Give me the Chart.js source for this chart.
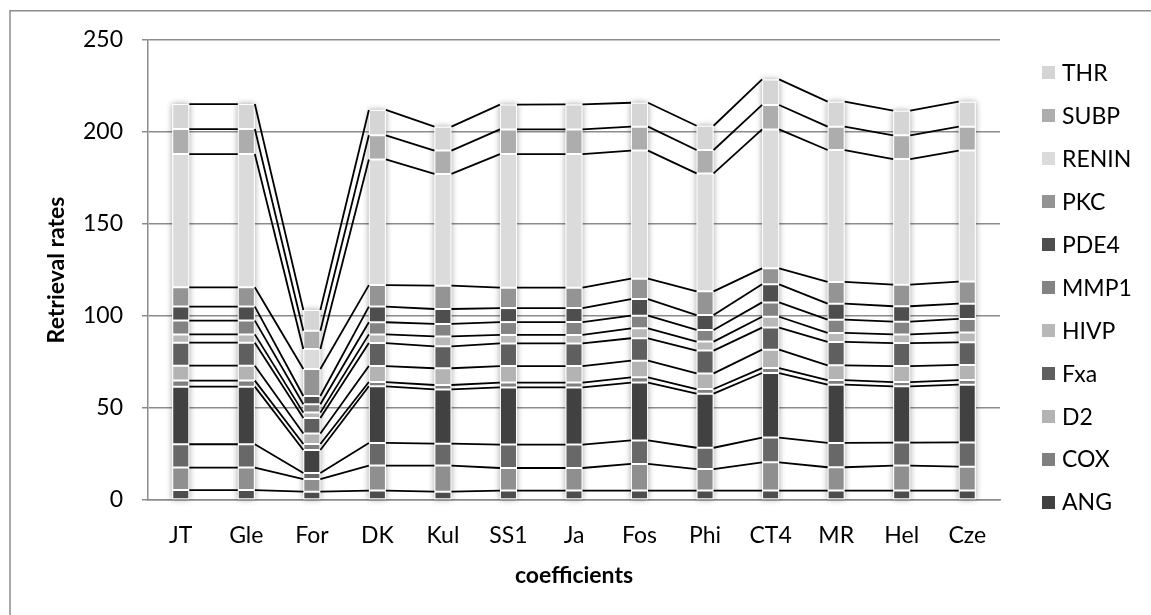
<!DOCTYPE html>
<html>
<head>
<meta charset="utf-8">
<script src="https://cdn.jsdelivr.net/npm/chart.js@4/dist/chart.umd.min.js"></script>
<style>
  html, body { margin: 0; padding: 0; background: #ffffff; }
  #wrap { width: 1151px; height: 615px; position: relative; }
</style>
</head>
<body>
<div id="wrap"><canvas id="c" width="1151" height="615"></canvas></div>
<script>
// Categories along the x axis
const categories = ['JT', 'Gle', 'For', 'DK', 'Kul', 'SS1', 'Ja', 'Fos', 'Phi', 'CT4', 'MR', 'Hel', 'Cze'];

// Series, stacked bottom to top
const ACE   = [5.4, 5.4, 4.5, 5.1, 4.5, 5.1, 5.1, 5.1, 5.1, 5.1, 5.1, 5.1, 5.1];
const ACHE  = [12.2, 12.2, 6.9, 13.6, 14.2, 12.3, 12.3, 14.5, 11.7, 15.4, 12.7, 13.6, 13.0];
const ADA   = [12.7, 12.7, 3.3, 12.3, 11.9, 12.7, 12.7, 12.8, 11.6, 13.4, 13.2, 12.5, 13.2];
const ANG   = [31.3, 31.3, 12.5, 30.8, 29.5, 31.1, 31.1, 31.4, 29.4, 35.1, 31.7, 30.6, 31.4];
const COX   = [3.3, 3.3, 3.2, 2.3, 2.4, 2.6, 2.6, 2.9, 2.5, 2.7, 2.5, 2.3, 2.5];
const D2    = [8.1, 8.1, 5.7, 8.7, 9.1, 9.0, 9.0, 9.0, 8.5, 10.0, 8.0, 8.7, 8.2];
const Fxa   = [12.5, 12.5, 8.5, 12.5, 11.9, 12.3, 12.3, 12.2, 12.4, 12.0, 12.7, 12.5, 12.3];
const HIVP  = [4.5, 4.5, 2.9, 4.7, 5.4, 4.6, 4.6, 5.4, 4.9, 5.9, 4.9, 4.7, 5.4];
const MMP1  = [7.5, 7.5, 4.5, 6.6, 6.8, 7.0, 7.0, 6.9, 6.3, 7.8, 7.2, 6.9, 7.3];
const PDE4  = [7.6, 7.6, 4.5, 8.5, 8.1, 7.6, 7.6, 9.0, 8.1, 9.8, 8.7, 8.4, 8.3];
const PKC   = [10.5, 10.5, 14.7, 11.7, 12.7, 11.1, 11.1, 11.1, 12.9, 8.7, 11.8, 11.7, 12.0];
const RENIN = [72.4, 72.4, 10.9, 68.3, 60.7, 72.6, 72.6, 69.6, 64.1, 75.5, 71.7, 68.3, 71.2];
const SUBP  = [13.6, 13.6, 9.9, 13.1, 12.7, 13.4, 13.4, 13.0, 12.7, 13.3, 12.7, 12.9, 13.0];
const THR   = [13.6, 13.6, 11.3, 13.8, 13.0, 13.5, 13.6, 13.0, 13.2, 13.9, 13.6, 13.4, 13.6];

const seriesNames  = ['ACE', 'ACHE', 'ADA', 'ANG', 'COX', 'D2', 'Fxa', 'HIVP', 'MMP1', 'PDE4', 'PKC', 'RENIN', 'SUBP', 'THR'];
const seriesValues = [ACE, ACHE, ADA, ANG, COX, D2, Fxa, HIVP, MMP1, PDE4, PKC, RENIN, SUBP, THR];
const seriesColors = ['#4d4d4d', '#8f8f8f', '#686868', '#414141', '#7f7f7f', '#b3b3b3', '#5f5f5f',
                      '#b8b8b8', '#838383', '#4e4e4e', '#949494', '#dbdbdb', '#adadad', '#d5d5d5'];
// Series listed in the legend (top entry first)
const legendNames = ['THR', 'SUBP', 'RENIN', 'PKC', 'PDE4', 'MMP1', 'HIVP', 'Fxa', 'D2', 'COX', 'ANG'];

// Y axis
const yMin = 0, yMax = 250, yStep = 50;

const FONT = 'Lato, "Open Sans", sans-serif';

const datasets = seriesNames.map((name, i) => ({
  label: name,
  data: seriesValues[i],
  backgroundColor: seriesColors[i],
  borderColor: '#ffffff',
  borderWidth: 1,
  borderSkipped: false,
  barPercentage: 0.26,
  categoryPercentage: 1.0,
  stack: 's'
}));

// Soft glow behind each full stack
const stackGlow = {
  id: 'stackGlow',
  beforeDatasetsDraw(chart) {
    const ctx = chart.ctx;
    const n = chart.data.datasets.length;
    const first = chart.getDatasetMeta(0).data;
    const last = chart.getDatasetMeta(n - 1).data;
    ctx.save();
    ctx.shadowColor = 'rgba(0,0,0,0.38)';
    ctx.shadowBlur = 6;
    ctx.fillStyle = '#ffffff';
    for (let i = 0; i < first.length; i++) {
      const b0 = first[i].getProps(['x', 'base', 'width'], true);
      const b1 = last[i].getProps(['y'], true);
      ctx.fillRect(b0.x - b0.width / 2, b1.y, b0.width, b0.base - b1.y);
    }
    ctx.restore();
  }
};

// Series lines joining the top of each segment to the same segment in the next bar
const seriesLines = {
  id: 'seriesLines',
  afterDatasetsDraw(chart) {
    const ctx = chart.ctx;
    ctx.save();
    ctx.strokeStyle = '#000000';
    ctx.lineWidth = 1.8;
    chart.data.datasets.forEach((ds, d) => {
      const bars = chart.getDatasetMeta(d).data;
      for (let i = 0; i < bars.length - 1; i++) {
        const a = bars[i].getProps(['x', 'y', 'width'], true);
        const b = bars[i + 1].getProps(['x', 'y', 'width'], true);
        ctx.beginPath();
        ctx.moveTo(a.x + a.width / 2, a.y);
        ctx.lineTo(b.x - b.width / 2, b.y);
        ctx.stroke();
      }
    });
    ctx.restore();
  }
};

// Legend at the right and the frame lines of the chart
const sideLegend = {
  id: 'sideLegend',
  afterDraw(chart) {
    const ctx = chart.ctx;
    ctx.save();
    ctx.strokeStyle = '#8c8c8c';
    ctx.lineWidth = 1.5;
    ctx.beginPath();
    ctx.moveTo(10, 615);
    ctx.lineTo(10, 10.75);
    ctx.lineTo(1151, 10.75);
    ctx.stroke();

    ctx.font = '23px ' + FONT;
    ctx.textAlign = 'left';
    ctx.textBaseline = 'middle';
    legendNames.forEach((name, k) => {
      const idx = seriesNames.indexOf(name);
      const yc = 72.5 + k * 42.95;
      ctx.fillStyle = seriesColors[idx];
      ctx.fillRect(1042, Math.round(yc - 6.5), 13, 13);
      ctx.fillStyle = '#000000';
      ctx.fillText(name, 1062, yc + 1);
    });
    ctx.restore();
  }
};

new Chart(document.getElementById('c'), {
  type: 'bar',
  data: { labels: categories, datasets },
  options: {
    responsive: false,
    devicePixelRatio: 1,
    animation: false,
    layout: { padding: { left: 10, top: 40, right: 151, bottom: 0 } },
    plugins: {
      legend: { display: false },
      tooltip: { enabled: false }
    },
    scales: {
      x: {
        stacked: true,
        grid: { display: false, drawTicks: false },
        border: { display: true, color: '#8c8c8c', width: 1.5 },
        ticks: { color: '#000000', font: { family: FONT, size: 23 }, padding: 22, maxRotation: 0 },
        title: {
          display: true, text: 'coefficients', color: '#000000',
          font: { family: FONT, size: 23, weight: 'bold' },
          padding: { top: 0, bottom: 26 }
        },
        afterFit(scale) { scale.height = 115; }
      },
      y: {
        stacked: true,
        min: yMin, max: yMax,
        ticks: { stepSize: yStep, color: '#000000', font: { family: FONT, size: 23 }, padding: 19 },
        grid: { color: '#8c8c8c', lineWidth: 1.5, tickLength: 6, drawTicks: true },
        border: { display: true, color: '#8c8c8c', width: 1.5 },
        title: {
          display: true, text: 'Retrieval rates', color: '#000000',
          font: { family: FONT, size: 23, weight: 'bold' },
          padding: { top: 33, bottom: 0 }
        },
        afterFit(scale) { scale.width = 138; }
      }
    }
  },
  plugins: [stackGlow, seriesLines, sideLegend]
});
</script>
</body>
</html>
